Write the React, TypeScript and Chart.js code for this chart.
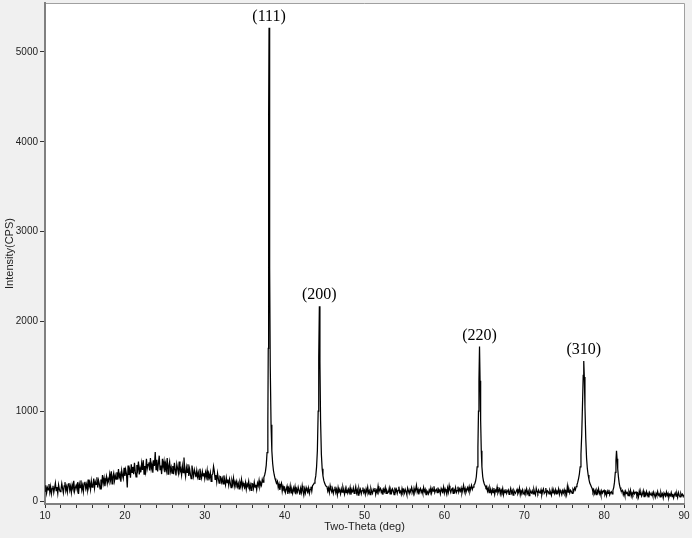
import React, { useEffect, useRef } from 'react';
import { Chart, registerables } from 'chart.js';

Chart.register(...registerables);

// Background scan segments (0.1 deg step), start angles
const bgStep = 0.1;
const segStarts = [10.0, 39.1, 45.3, 65.3, 78.5, 82.3];

const bgA = [
  110, 175, 90, 150, 125, 190, 100, 160, 80, 140,
  170, 95, 145, 200, 115, 155, 85, 180, 130, 105,
  125, 195, 140, 90, 170, 210, 115, 160, 100, 185,
  200, 120, 165, 95, 180, 140, 225, 110, 150, 175,
  135, 210, 80, 190, 150, 230, 125, 175, 105, 200,
  215, 140, 185, 120, 240, 160, 200, 130, 225, 155,
  170, 250, 145, 215, 185, 265, 150, 230, 190, 135,
  240, 180, 290, 200, 255, 165, 230, 275, 195, 245,
  215, 300, 235, 330, 190, 270, 310, 225, 285, 245,
  320, 240, 355, 265, 300, 215, 340, 285, 250, 370,
  280, 350, 300, 150, 395, 290, 340, 260, 410, 320,
  380, 300, 425, 330, 270, 400, 350, 440, 295, 365,
  320, 420, 345, 455, 300, 390, 330, 470, 360, 405,
  430, 340, 480, 360, 410, 315, 455, 390, 545, 350,
  460, 330, 420, 505, 350, 395, 300, 470, 380, 440,
  320, 410, 345, 480, 300, 390, 440, 330, 375, 310,
  390, 300, 425, 350, 285, 410, 360, 310, 440, 330,
  360, 290, 390, 315, 485, 340, 275, 375, 320, 410,
  280, 360, 300, 250, 395, 330, 275, 350, 310, 265,
  340, 270, 315, 240, 360, 295, 255, 330, 280, 310,
  250, 320, 270, 340, 230, 300, 260, 315, 220, 290,
  300, 385, 330, 240, 290, 215, 310, 250, 200, 275,
  270, 210, 250, 190, 285, 225, 180, 260, 205, 240,
  175, 245, 200, 150, 230, 190, 255, 165, 215, 185,
  220, 160, 195, 135, 210, 175, 240, 150, 200, 170,
  150, 205, 130, 190, 165, 220, 140, 180, 120, 195,
  190, 140, 210, 155, 180, 125, 200, 170, 230, 160,
  200, 175, 240, 210, 265,
];
const bgB = [
  220, 150, 190, 125, 175, 200, 110, 165, 135,
  150, 95, 130, 165, 80, 140, 105, 170, 90, 125,
  85, 145, 110, 160, 75, 130, 100, 155, 120, 70,
  140, 95, 170, 110, 65, 135, 90, 150, 120, 100,
  145, 85, 130, 160, 110, 175,
];
const bgC = [
  160, 110, 145, 95, 170, 125, 100,
  140, 85, 125, 160, 95, 130, 70, 150, 105, 120,
  80, 135, 100, 155, 115, 75, 140, 95, 125, 90,
  130, 95, 150, 70, 120, 105, 145, 85, 115, 160,
  90, 125, 65, 140, 100, 130, 80, 115, 150, 95,
  120, 75, 135, 100, 155, 90, 115, 70, 140, 105,
  85, 130, 110, 145, 75, 120, 95, 165, 100, 125,
  140, 95, 120, 70, 130, 105, 150, 85, 115, 90,
  100, 145, 80, 125, 95, 135, 115, 70, 150, 105,
  130, 85, 120, 160, 95, 110, 75, 140, 100, 125,
  90, 130, 105, 70, 145, 115, 85, 125, 100, 150,
  115, 80, 140, 95, 125, 175, 100, 130, 75, 120,
  140, 95, 120, 85, 150, 105, 130, 70, 115, 100,
  80, 125, 100, 145, 90, 135, 110, 165, 95, 120,
  130, 95, 150, 105, 120, 80, 140, 115, 100, 155,
  90, 135, 110, 75, 145, 100, 170, 120, 95, 130,
  140, 85, 125, 105, 150, 95, 115, 160, 100, 135,
  110, 145, 90, 130, 175, 105, 140, 95, 125, 150,
  115, 160, 105, 140, 175, 130, 155, 180,
];
const bgD = [
  165, 110, 140, 95, 150, 120, 85,
  130, 95, 145, 75, 120, 105, 155, 90, 115, 135,
  80, 125, 100, 140, 70, 115, 95, 130, 85, 110,
  125, 75, 105, 140, 90, 115, 65, 120, 100, 85,
  110, 130, 80, 100, 145, 70, 115, 95, 125, 85,
  75, 120, 95, 135, 85, 110, 60, 125, 100, 90,
  115, 80, 130, 95, 70, 140, 105, 85, 120, 95,
  90, 125, 70, 110, 135, 85, 100, 145, 75, 115,
  105, 80, 120, 95, 65, 130, 90, 115, 85, 125,
  80, 110, 95, 135, 75, 120, 100, 70, 115, 90,
  125, 85, 110, 70, 165, 100, 130, 90, 120, 105,
  85, 130, 110, 145, 125, 160,
];
const bgE = [
  140, 100, 125, 85, 115,
  70, 120, 95, 135, 80, 105, 65, 115, 90, 110,
  120, 75, 100, 60, 110, 85, 125, 70, 95, 105,
  80, 120,
];
const bgF = [
  120, 70, 100, 60, 110, 85, 95,
  60, 105, 75, 120, 55, 90, 70, 110, 80, 95,
  100, 60, 85, 45, 110, 70, 95, 55, 80, 115,
  50, 90, 70, 105, 60, 85, 40, 95, 75, 65,
  90, 55, 100, 70, 40, 85, 60, 105, 65, 80,
  45, 95, 60, 80, 35, 90, 70, 55, 100, 60,
  85, 40, 75, 60, 95, 50, 80, 35, 70, 90,
  55, 80, 40, 95, 65, 45, 85, 60, 75, 50,
  70,
];

// Diffraction peaks
const peak111X = [37.5, 37.6, 37.7, 37.8, 37.9, 37.95, 38.0, 38.05, 38.1, 38.15, 38.2, 38.3, 38.4, 38.5, 38.6, 38.7, 38.8, 38.9, 39.0];
const peak111Y = [290, 330, 400, 540, 900, 1700, 4300, 5270, 4100, 2600, 1500, 850, 560, 420, 340, 290, 250, 220, 200];
const peak200X = [43.6, 43.7, 43.8, 43.9, 44.0, 44.1, 44.2, 44.27, 44.35, 44.42, 44.5, 44.6, 44.7, 44.8, 44.9, 45.0, 45.1, 45.2];
const peak200Y = [180, 200, 230, 280, 380, 560, 1000, 1600, 2170, 1550, 900, 520, 360, 280, 230, 200, 180, 165];
const peak220X = [63.8, 63.9, 64.0, 64.1, 64.2, 64.27, 64.33, 64.4, 64.47, 64.54, 64.62, 64.7, 64.8, 64.9, 65.0, 65.1, 65.2];
const peak220Y = [190, 220, 270, 380, 600, 1000, 1350, 1720, 1340, 900, 560, 380, 270, 220, 190, 170, 150];
const peak310X = [76.6, 76.7, 76.8, 76.9, 77.0, 77.1, 77.2, 77.3, 77.38, 77.45, 77.52, 77.6, 77.7, 77.8, 77.9, 78.0, 78.1, 78.2, 78.3, 78.4];
const peak310Y = [180, 210, 250, 300, 380, 520, 750, 1100, 1400, 1560, 1380, 1050, 700, 480, 360, 290, 240, 200, 180, 160];
const peak816X = [81.2, 81.3, 81.4, 81.48, 81.55, 81.62, 81.7, 81.8, 81.9, 82.0, 82.1, 82.2];
const peak816Y = [150, 210, 320, 450, 560, 470, 360, 260, 190, 150, 120, 110];

const peakLabels = ['(111)', '(200)', '(220)', '(310)'];
const peakLabelX = [38.05, 44.35, 64.4, 77.45];
const peakLabelY = [5270, 2170, 1720, 1560];

const xTickValues = [10, 12, 14, 16, 18, 20, 22, 24, 26, 28, 30, 32, 34, 36, 38, 40, 42, 44, 46, 48, 50, 52, 54, 56, 58, 60, 62, 64, 66, 68, 70, 72, 74, 76, 78, 80, 82, 84, 86, 88, 90];
const yTickValues = [0, 1000, 2000, 3000, 4000, 5000];

function buildPoints() {
  const pts: { x: number; y: number }[] = [];
  const segs = [bgA, bgB, bgC, bgD, bgE, bgF];
  segs.forEach((vals, s) => {
    vals.forEach((v, i) => pts.push({ x: +(segStarts[s] + i * bgStep).toFixed(2), y: v }));
  });
  const peaks: [number[], number[]][] = [
    [peak111X, peak111Y],
    [peak200X, peak200Y],
    [peak220X, peak220Y],
    [peak310X, peak310Y],
    [peak816X, peak816Y],
  ];
  peaks.forEach(([xs, ys]) => xs.forEach((x, i) => pts.push({ x, y: ys[i] })));
  pts.sort((a, b) => a.x - b.x);
  return pts;
}

const bgPlugin = {
  id: 'bgPlugin',
  beforeDraw(chart: any) {
    const { ctx, chartArea } = chart;
    ctx.save();
    ctx.fillStyle = '#f0f0f0';
    ctx.fillRect(0, 0, chart.width, chart.height);
    ctx.fillStyle = '#ffffff';
    ctx.fillRect(chartArea.left, chartArea.top, chartArea.right - chartArea.left, chartArea.bottom - chartArea.top);
    ctx.strokeStyle = '#a0a0a0';
    ctx.lineWidth = 1;
    ctx.beginPath();
    ctx.moveTo(chartArea.left, chartArea.top + 0.5);
    ctx.lineTo(chartArea.right + 0.5, chartArea.top + 0.5);
    ctx.lineTo(chartArea.right + 0.5, chartArea.bottom);
    ctx.stroke();
    ctx.restore();
  },
};

const labelPlugin = {
  id: 'peakLabels',
  afterDatasetsDraw(chart: any) {
    const { ctx, scales } = chart;
    ctx.save();
    ctx.font = '16px "Liberation Serif", "Times New Roman", serif';
    ctx.fillStyle = '#000';
    ctx.textAlign = 'center';
    ctx.textBaseline = 'alphabetic';
    peakLabels.forEach((t, i) => {
      const px = scales.x.getPixelForValue(peakLabelX[i]);
      const py = scales.y.getPixelForValue(peakLabelY[i]);
      ctx.fillText(t, px, py - 7);
    });
    ctx.restore();
  },
};

export default function App() {
  const ref = useRef<HTMLCanvasElement>(null);
  useEffect(() => {
    document.body.style.margin = '0';
    const chart = new Chart(ref.current!, {
      type: 'line',
      data: {
        datasets: [
          {
            data: buildPoints(),
            borderColor: '#000',
            borderWidth: 1.25,
            pointRadius: 0,
            tension: 0,
            fill: false,
          },
        ],
      },
      options: {
        animation: false,
        responsive: false,
        layout: { padding: { top: 3, right: 8, left: 0, bottom: 0 } },
        plugins: { legend: { display: false }, tooltip: { enabled: false } },
        scales: {
          x: {
            type: 'linear',
            min: 10,
            max: 90,
            afterBuildTicks: (s: any) => {
              s.ticks = xTickValues.map((v) => ({ value: v }));
            },
            afterFit: (s: any) => {
              s.height = 34;
              s.paddingLeft = 0;
              s.paddingRight = 0;
            },
            ticks: {
              autoSkip: false,
              maxRotation: 0,
              padding: 2,
              color: '#222',
              font: { family: '"Liberation Sans", Arial, sans-serif', size: 10 },
              callback: (v: any) => (Math.abs(Number(v) % 10) < 1e-6 ? String(v) : ''),
            },
            grid: { drawOnChartArea: false, drawTicks: true, tickLength: 4, color: '#333' },
            border: { display: true, color: '#808080', width: 2 },
            title: {
              display: true,
              text: 'Two-Theta (deg)',
              color: '#222',
              font: { family: '"Liberation Sans", Arial, sans-serif', size: 11 },
              padding: { top: 0, bottom: 4 },
            },
          },
          y: {
            type: 'linear',
            min: -33,
            max: 5545,
            afterBuildTicks: (s: any) => {
              s.ticks = yTickValues.map((v) => ({ value: v }));
            },
            afterFit: (s: any) => {
              s.width = 45;
              s.paddingTop = 0;
              s.paddingBottom = 0;
            },
            ticks: {
              padding: 2,
              color: '#222',
              font: { family: '"Liberation Sans", Arial, sans-serif', size: 10 },
              callback: (v: any) => String(v),
            },
            grid: { drawOnChartArea: false, drawTicks: true, tickLength: 5, color: '#333' },
            border: { display: true, color: '#808080', width: 2 },
            title: {
              display: true,
              text: 'Intensity(CPS)',
              color: '#222',
              font: { family: '"Liberation Sans", Arial, sans-serif', size: 11 },
              padding: { top: 3, bottom: 0 },
            },
          },
        },
      },
      plugins: [bgPlugin, labelPlugin],
    });
    return () => chart.destroy();
  }, []);
  return (
    <div style={{ position: 'fixed', left: 0, top: 0, width: 692, height: 538 }}>
      <canvas ref={ref} width={692} height={538} style={{ display: 'block' }} />
    </div>
  );
}
